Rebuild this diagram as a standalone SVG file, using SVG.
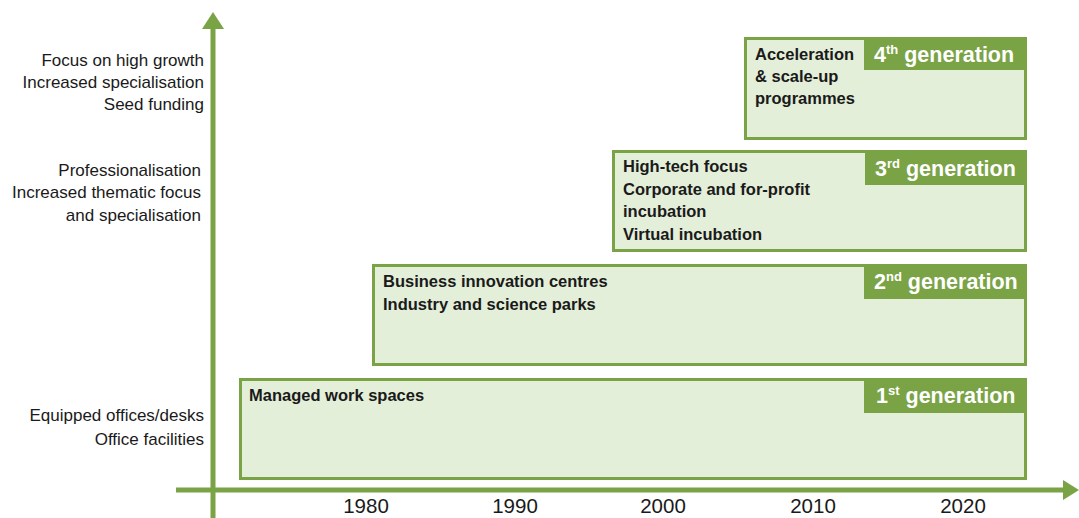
<svg xmlns="http://www.w3.org/2000/svg" width="1079" height="518" viewBox="0 0 1079 518">
<defs>
<style>
.box{fill:#e4efd9;stroke:#7aa346;stroke-width:3}
.tab{fill:#7aa346}
.tt{font-family:"Liberation Sans",Arial,sans-serif;font-weight:bold;font-size:21.5px;fill:#ffffff}
.bt{font-family:"Liberation Sans",Arial,sans-serif;font-weight:bold;font-size:16.5px;fill:#1a1a1a}
.lt{font-family:"Liberation Sans",Arial,sans-serif;font-size:17px;fill:#1a1a1a;text-anchor:end}
.yr{font-family:"Liberation Sans",Arial,sans-serif;font-size:20.5px;fill:#1a1a1a;text-anchor:middle}
.ax{stroke:#7aa346;stroke-width:5;fill:none}
</style>
</defs>
<rect width="1079" height="518" fill="#ffffff"/>
<g id="axes">
<line class="ax" x1="213" y1="518" x2="213" y2="26"/>
<polygon points="213,12 202,29 224,29" fill="#7aa346"/>
<line class="ax" x1="176" y1="490" x2="1066" y2="490"/>
<polygon points="1079,490 1063,480 1063,500" fill="#7aa346"/>
</g>
<g id="gen4">
<rect class="box" x="745.5" y="38.5" width="280" height="100"/>
<rect class="tab" x="864" y="40" width="160" height="30"/>
<text class="tt" x="874" y="62">4<tspan font-size="13" dy="-8">th</tspan><tspan dy="8"> generation</tspan></text>
<text class="bt" x="755" y="60">Acceleration</text>
<text class="bt" x="755" y="82">&amp; scale-up</text>
<text class="bt" x="755" y="104">programmes</text>
</g>
<g id="gen3">
<rect class="box" x="613.5" y="151.5" width="412" height="99"/>
<rect class="tab" x="865" y="153" width="159" height="32"/>
<text class="tt" x="875" y="176">3<tspan font-size="13" dy="-8">rd</tspan><tspan dy="8"> generation</tspan></text>
<text class="bt" x="623" y="172">High-tech focus</text>
<text class="bt" x="623" y="195">Corporate and for-profit</text>
<text class="bt" x="623" y="217">incubation</text>
<text class="bt" x="623" y="240">Virtual incubation</text>
</g>
<g id="gen2">
<rect class="box" x="373.5" y="265.5" width="652" height="99"/>
<rect class="tab" x="864" y="267" width="160" height="32"/>
<text class="tt" x="874" y="289">2<tspan font-size="13" dy="-8">nd</tspan><tspan dy="8"> generation</tspan></text>
<text class="bt" x="383" y="287">Business innovation centres</text>
<text class="bt" x="383" y="310">Industry and science parks</text>
</g>
<g id="gen1">
<rect class="box" x="240.5" y="379.5" width="785" height="99"/>
<rect class="tab" x="864" y="381" width="160" height="32"/>
<text class="tt" x="876" y="403">1<tspan font-size="13" dy="-8">st</tspan><tspan dy="8"> generation</tspan></text>
<text class="bt" x="249" y="401">Managed work spaces</text>
</g>
<g id="labels">
<text class="lt" x="204" y="66">Focus on high growth</text>
<text class="lt" x="204" y="88">Increased specialisation</text>
<text class="lt" x="204" y="110">Seed funding</text>
<text class="lt" x="201" y="176">Professionalisation</text>
<text class="lt" x="201" y="198">Increased thematic focus</text>
<text class="lt" x="201" y="221">and specialisation</text>
<text class="lt" x="204" y="421">Equipped offices/desks</text>
<text class="lt" x="204" y="445">Office facilities</text>
</g>
<g id="years">
<text class="yr" x="366" y="513">1980</text>
<text class="yr" x="515" y="513">1990</text>
<text class="yr" x="663" y="513">2000</text>
<text class="yr" x="813" y="513">2010</text>
<text class="yr" x="963" y="513">2020</text>
</g>
</svg>
